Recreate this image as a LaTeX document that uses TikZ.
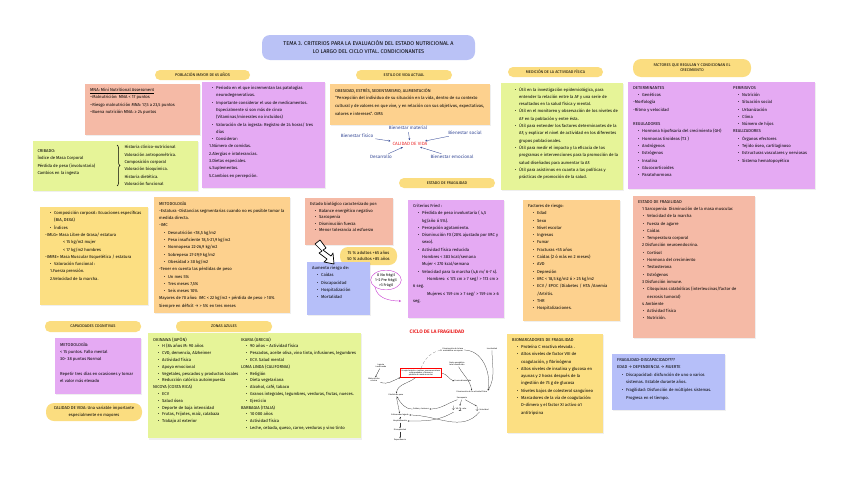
\documentclass[tikz,border=0pt]{standalone}
\usepackage{fontspec}
\setmainfont{Fira Sans}
\usepackage{enumitem}
\usetikzlibrary{positioning,arrows.meta,shapes.geometric,decorations.pathreplacing,shadows}
\setlist[itemize]{label=\textbullet,leftmargin=9pt,labelsep=3pt,itemsep=0pt,parsep=0pt,topsep=0pt,partopsep=0pt}
\definecolor{pillyellow}{RGB}{251,221,128}
\definecolor{notesalmon}{RGB}{245,186,166}
\definecolor{notepurple}{RGB}{229,170,243}
\definecolor{notelime}{RGB}{230,244,152}
\definecolor{noteorange}{RGB}{253,209,142}
\definecolor{noteyellow}{RGB}{252,223,130}
\definecolor{notelav}{RGB}{182,191,249}
\definecolor{titlelav}{RGB}{186,194,246}
\definecolor{qolblue}{RGB}{52,72,150}
\definecolor{qolred}{RGB}{235,40,40}
\definecolor{scoremag}{RGB}{200,60,210}
\newcommand{\notefont}{\fontsize{4.2}{7.3}\selectfont}
\newcommand{\notetext}[3]{\parbox[t][#2][t]{#1}{\raggedright\notefont #3}}
\tikzset{
  note/.style={fill=#1, anchor=north west, inner xsep=5pt, inner ysep=4pt,
    drop shadow={opacity=0.12, shadow xshift=0.6pt, shadow yshift=-1.2pt}},
  pill/.style={fill=pillyellow, rounded corners=5pt, inner sep=1pt, align=center,
    font=\fontsize{3.9}{5.2}\selectfont},
  qol/.style={text=qolblue, font=\fontsize{4.6}{5.5}\selectfont, inner sep=1pt},
  qolarrow/.style={-{Stealth[length=2pt,width=2pt]}, qolblue, line width=0.35pt, shorten <=1pt, shorten >=1pt},
  cyc/.style={font=\fontsize{2}{2.4}\selectfont, align=center, inner sep=0.5pt},
  cycarrow/.style={-{Stealth[length=1.6pt,width=1.4pt]}, line width=0.25pt, black!80},
}
\begin{document}
\begin{tikzpicture}[x=1pt, y=-1pt]
\useasboundingbox (0,0) rectangle (848,477);
\fill[white] (0,0) rectangle (848,477);

% titulo y cabeceras
\node[fill=titlelav, rounded corners=8pt, minimum width=213pt, minimum height=25pt, align=center,
  font=\fontsize{5.5}{8}\selectfont] (title) at (368.5,47.5)
  {TEMA 3. CRITERIOS PARA LA EVALUACIÓN DEL ESTADO NUTRICIONAL A\\LO LARGO DEL CICLO VITAL. CONDICIONANTES};
\node[pill, minimum width=95pt, minimum height=10pt] (hpob) at (202.5,75) {POBLACIÓN MAYOR DE 65 AÑOS};
\node[pill, minimum width=96pt, minimum height=10pt] (hest) at (404,75) {ESTILO DE VIDA ACTUAL};
\node[pill, minimum width=95pt, minimum height=10pt] (hmed) at (555.5,72) {MEDICIÓN DE LA ACTIVIDAD FÍSICA};
\node[pill, minimum width=118pt, minimum height=18pt, rounded corners=8pt] (hfac) at (692,68) {FACTORES QUE REGULAN Y CONDICIONAN EL\\CRECIMIENTO};
\node[pill, minimum width=96pt, minimum height=10pt] (hfrag) at (447,183) {ESTADO DE FRAGILIDAD};
\node[pill, minimum width=96pt, minimum height=11pt] (hcog) at (93,326.5) {CAPACIDADES COGNITIVAS};
\node[pill, minimum width=96pt, minimum height=11pt] (hzon) at (224,326.5) {ZONAS AZULES};
\node[pill, minimum width=96pt, minimum height=18pt, rounded corners=8pt, font=\fontsize{4.2}{6.4}\selectfont] (hcal) at (94,412)
  {CALIDAD DE VIDA: Una variable importante\\especialmente en mayores};
\node[pill, minimum width=57pt, minimum height=18pt, rounded corners=8pt, font=\fontsize{4.2}{6.4}\selectfont] (hpct) at (368.5,256)
  {15 \% adultos +65 años\\50 \% adultos +85 años};

% poblacion mayor de 65
\node[note=notesalmon] (mna) at (85,84) {\notetext{105pt}{43pt}{%
\underline{MNA: Mini Nutritional Assessment}\\
–Malnutrición: MNA < 17 puntos\\
–Riesgo malnutrición MNA: 17,5 a 23,5 puntos\\
–Buena nutrición MNA: ≥ 24 puntos}};
\node[note=notepurple] (pers) at (202,82) {\notetext{113pt}{98pt}{%
\begin{itemize}
\item Periodo en el que incrementan las patologías neurodegenerativas.
\item Importante considerar el uso de medicamentos. Especialmente si son más de cinco (Vitaminas/minerales no incluidos)
\item Valoración de la ingesta: Registro de 24 horas/ tres días
\item Considerar:
\end{itemize}
\hspace*{2pt}1.Número de comidas.\\
\hspace*{2pt}2.Alergias e intolerancias.\\
\hspace*{2pt}3.Dietas especiales.\\
\hspace*{2pt}4.Suplementos.\\
\hspace*{2pt}5.Cambios en percepción.}};
\node[note=notelime, minimum width=165pt, minimum height=50pt] (crib) at (33,141) {};
\node[below right=5pt and 1pt of crib.north west, align=left, font=\notefont] (cribL)
  {CRIBADO:\\Índice de Masa Corporal\\Pérdida de peso (involuntaria)\\Cambios en la ingesta};
\node[below right=1pt and 88pt of crib.north west, align=left, font=\notefont] (cribR)
  {Historia clínico-nutricional\\Valoración antropométrica.\\Composición corporal\\Valoración bioquímica.\\Historia dietética.\\Valoración funcional};
\draw[decorate, decoration={brace, amplitude=3pt}, line width=0.5pt]
  ([xshift=-4pt, yshift=-3pt]cribR.north west) -- ([xshift=-4pt, yshift=3pt]cribR.south west);
\node[note=noteyellow] (comp) at (40,207) {\notetext{98pt}{90pt}{%
\begin{itemize}
\item Composición corporal: Ecuaciones específicas (BIA, DEXA)
\item Índices
\end{itemize}
-IMLG= Masa Libre de Grasa/ estatura\\
\hspace*{18pt}< 15 kg/m2 mujer\\
\hspace*{18pt}< 17 kg/m2 hombres\\
-IMME= Masa Muscular Esquelética / estatura
\begin{itemize}
\item Valoración funcional :
\end{itemize}
\hspace*{5pt}1.Fuerza prensión.\\
\hspace*{5pt}2.Velocidad de la marcha.}};
\node[note=noteorange] (metod) at (154,197) {\notetext{126pt}{108pt}{%
METODOLOGÍA\\
-Estatura -Distancias segmentarias cuando no es posible tomar la medida directa.\\
-IMC
\begin{itemize}
\item Desnutrición <18,5 kg/m2
\item Peso insuficiente 18,5-21,9 kg/m2
\item Normopeso 22-26,9 kg/m2
\item Sobrepeso 27-29,9 kg/m2
\item Obesidad ≥ 30 kg/m2
\end{itemize}
-Tener en cuenta las pérdidas de peso
\begin{itemize}
\item Un mes 5\%
\item Tres meses 7,5\%
\item Seis meses 10\%
\end{itemize}
Mayores de 70 años: IMC < 22 kg/m2 + pérdida de peso > 10\%\\
Siempre en déficit → > 5\% en tres meses}};

% estilo de vida
\node[note=noteorange] (estilo) at (330,84) {\notetext{150pt}{33pt}{\fontsize{4.2}{7.8}\selectfont
OBESIDAD, ESTRÉS, SEDENTARISMO, ALIMENTACIÓN\\
“Percepción del individuo de su situación en la vida, dentro de su contexto cultural y de valores en que vive, y en relación con sus objetivos, expectativas, valores e intereses”. OMS}};
\node[qol] (bmat) at (408,128) {Bienestar material};
\node[qol] (bfis) at (357,136) {Bienestar físico};
\node[qol] (bsoc) at (465,133) {Bienestar social};
\node[qol, text=qolred] (cvida) at (410,144) {CALIDAD DE VIDA};
\node[qol] (desa) at (381,157) {Desarrollo};
\node[qol] (bemo) at (452,157) {Bienestar emocional};
\draw[qolarrow] (bmat) -- (cvida);
\draw[qolarrow] (bfis) -- (cvida);
\draw[qolarrow] (bsoc) -- (cvida);
\draw[qolarrow] (desa) -- (cvida);
\draw[qolarrow] (bemo) -- (cvida);

% actividad fisica
\node[note=notelime] (medic) at (501,83) {\notetext{112pt}{99pt}{%
\begin{itemize}[leftmargin=13pt]
\item Útil en la investigación epidemiológica, para entender la relación entre la AF y una serie de resultados en la salud física y mental.
\item Útil en el monitoreo y observación de los niveles de AF en la población y entre ésta.
\item Útil para entender los factores determinantes de la AF, y explicar el nivel de actividad en los diferentes grupos poblacionales.
\item Útil para medir el impacto y la eficacia de los programas e intervenciones para la promoción de la salud diseñados para aumentar la AF.
\item Útil para asistirnos en cuanto a las políticas y prácticas de promoción de la salud.
\end{itemize}}};

% crecimiento
\node[note=notepurple] (fac) at (628,82) {\notetext{100pt}{99pt}{%
DETERMINANTES
\begin{itemize}
\item Genéticos
\end{itemize}
-Morfología\\
-Ritmo y velocidad\\[7.3pt]
REGULADORES
\begin{itemize}
\item Hormona hipofisaria del crecimiento (GH)
\item Hormonas tiroideas (T3 )
\item Andrógenos
\item Estrógenos
\item Insulina
\item Glucocorticoides
\item Paratohormona
\end{itemize}}\notetext{77pt}{99pt}{%
PERMISIVOS
\begin{itemize}
\item Nutrición
\item Situación social
\item Urbanización
\item Clima
\item Número de hijos
\end{itemize}
REALIZADORES
\begin{itemize}
\item Órganos efectores
\item Tejido óseo, cartilaginoso
\item Estructuras vasculares y nerviosas
\item Sistema hematopoyético
\end{itemize}}};

% fragilidad
\node[note=notesalmon] (bio) at (305,198) {\notetext{78pt}{39pt}{\fontsize{4.2}{6.6}\selectfont
Estado biológico caracterizado por:
\begin{itemize}
\item Balance energético negativo
\item Sarcopenia
\item Disminución fuerza
\item Menor tolerancia al esfuerzo
\end{itemize}}};
\node[note=notelav] (riesgo) at (307,262) {\notetext{53pt}{45pt}{%
Aumento riesgo de:
\begin{itemize}
\item Caídas
\item Discapacidad
\item Hospitalización
\item Mortalidad
\end{itemize}}};
\draw[fill=white, line width=0.7pt, line join=round]
  (315,244) -- (320,240) -- (326,248) -- (323,250) -- (331,256) -- (333,253) -- (334,264)
  -- (324,262) -- (327,259) -- (319,253) -- (322,251) -- cycle;
\node[draw=scoremag, ellipse, line width=0.4pt, inner sep=0pt, align=center,
  font=\fontsize{3.8}{5}\selectfont] (frscore) at (386,280) {0 No frágil\\1--2 Pre frágil\\>3 Frágil};
\coordinate (frtip) at (401,301);
\draw[scoremag, line width=0.4pt, -{Stealth[length=2pt,width=2pt]}] (frscore.south west) to[out=-80, in=180] (frtip);
\node[note=notepurple] (fried) at (408,200) {\notetext{86pt}{110pt}{%
Criterios Fried :
\begin{itemize}
\item Pérdida de peso involuntaria ( 4,5 kg/año ó 5\%).
\item Percepción agotamiento.
\item Disminución FX (20\% ajustado por IMC y sexo).
\item Actividad física reducida\\
Hombres < 383 kcal/semana\\
Mujer < 270 kcal/semana
\item Velocidad para la marcha (4,6 m/ 6-7 s).
\end{itemize}
\hspace*{14pt}Hombres: ≤ 173 cm ≥ 7 seg/ > 173 cm ≥ 6 seg.\\
\hspace*{14pt}Mujeres ≤ 159 cm ≥ 7 seg/ > 159 cm ≥ 6 seg.}};
\node[note=noteorange] (friesgo) at (523,200) {\notetext{87pt}{113pt}{%
Factores de riesgo:
\begin{itemize}
\item Edad
\item Sexo
\item Nivel escolar
\item Ingresos
\item Fumar
\item Fracturas +55 años
\item Caídas (2 ó más en 2 meses)
\item AVD
\item Depresión
\item IMC < 18,5 kg/m2 ó > 25 kg/m2
\item ECV / EPOC /Diabetes / HTA /Anemia /Artritis.
\item THR
\item Hospitalizaciones.
\end{itemize}}};
\node[note=notesalmon] (estfrag) at (633,196) {\notetext{112pt}{134pt}{%
ESTADO DE FRAGILIDAD\\
\hspace*{4pt}1 Sarcopenia: Disminución de la masa muscular.
\begin{itemize}
\item Velocidad de la marcha
\item Fuerza de agarre
\item Caídas
\item Temperatura corporal
\end{itemize}
\hspace*{4pt}2 Disfunción neuroendocrina.
\begin{itemize}
\item Cortisol
\item Hormona del crecimiento
\item Testosterona
\item Estrógenos
\end{itemize}
\hspace*{4pt}3 Disfunción inmune.
\begin{itemize}
\item Citoquinas catabólicas (interleucinas/factor de necrosis tumoral)
\end{itemize}
\hspace*{4pt}4 Ambiente
\begin{itemize}
\item Actividad física
\item Nutrición.
\end{itemize}}};

% capacidades cognitivas y zonas azules
\node[note=notepurple] (cogn) at (55,338) {\notetext{76pt}{48pt}{%
METODOLOGÍA:\\
< 15 puntos. Fallo mental\\
30- 38 puntos Normal\\[7.3pt]
Repetir tres días en ocasiones y tomar el valor más elevado}};
\node[note=notelime] (zonas) at (148,333) {\notetext{88pt}{97pt}{\fontsize{4.2}{6.8}\selectfont
OKINAWA (JAPÓN)
\begin{itemize}
\item H (84 años M: 90 años
\item CVD, demencia, Alzheimer
\item Actividad física
\item Apoyo emocional
\item Vegetales, pescados y productos locales
\item Reducción calórica autoimpuesta
\end{itemize}
NICOYA (COSTA RICA)
\begin{itemize}
\item ECV
\item Salud ósea
\item Deporte de baja intensidad
\item Frutas, Frijoles, maíz, calabaza
\item Trabajo al exterior
\end{itemize}}\notetext{115pt}{97pt}{\fontsize{4.2}{6.8}\selectfont
IKARIA (GRECIA)
\begin{itemize}
\item 90 años – Actividad física
\item Pescados, aceite oliva, vino tinto, infusiones, legumbres
\item ECV. Salud mental
\end{itemize}
LOMA LINDA (CALIFORNIA)
\begin{itemize}
\item Religión
\item Dieta vegetariana
\item Alcohol, café, tabaco
\item Granos integrales, legumbres, verduras, frutas, nueces.
\item Ejercicio
\end{itemize}
BARBAGIA (ITALIA)
\begin{itemize}
\item 10 000 años
\item Actividad física
\item Leche, cebada, queso, carne, verduras y vino tinto
\end{itemize}}};

% ciclo de la fragilidad
\node[text=qolred, font=\bfseries\fontsize{5}{6}\selectfont] (cyctitle) at (437,332) {CICLO DE LA FRAGILIDAD};
\node[cyc] (cytasa) at (453,350) {Disminución de la tasa\\metabólica en reposo};
\node[cyc] (cyinac) at (492,349) {Inactividad};
\node[cyc] (cyinge) at (381,366) {Ingesta\\inadecuada};
\node[cyc] (cymaln) at (374,380) {Malnutrición\\crónica};
\node[cyc, draw=red, line width=0.4pt, inner sep=1pt] (cyenv) at (421,373)
  {Envejecimiento: cambios neuromusculares\\enfermedades y fármacos\\pérdida de masa muscular};
\node[cyc] (cygast) at (457,364) {Gasto energético\\total disminuido};
\node[cyc] (cyfuer) at (463,381) {Fuerza disminuida};
\node[cyc] (cypeso) at (396,395) {Pérdida de peso};
\node[cyc] (cyacti) at (472,392) {Disminución de la actividad física};
\node[cyc] (cysarc) at (462,398) {Sarcopenia};
\node[cyc] (cycaid) at (421,409) {Caídas y lesiones};
\node[cyc] (cyvo) at (459,409) {$\downarrow$ VO$_2$ máx};
\node[cyc] (cyvel) at (482,409) {$\downarrow$ Velocidad};
\node[cyc] (cyagud) at (400,415) {Enfermedad aguda};
\node[cyc] (cyhosp) at (400,421) {Hospitalización};
\node[cyc] (cydisc) at (400,430) {Discapacidad};
\node[cyc] (cydepe) at (400,440) {Dependencia};
\draw[cycarrow] (cyinge) -- (cymaln);
\draw[cycarrow] (cymaln) to[out=-20, in=200] (cyenv.south west);
\draw[cycarrow] (cyenv) to[out=220, in=80] (cypeso);
\draw[cycarrow] (cypeso) -- (cyagud);
\draw[cycarrow] (cyagud) -- (cyhosp);
\draw[cycarrow] (cyhosp) -- (cydisc);
\draw[cycarrow] (cydisc) -- (cydepe);
\draw[cycarrow, densely dashed, gray] (cyenv.north) to[out=70, in=190] (cytasa.west);
\draw[cycarrow] (cytasa.east) to[out=0, in=80] (cyacti.north east);
\draw[cycarrow] (cyinac) to[out=-90, in=60] (cyacti.north east);
\draw[cycarrow] (cygast) to[out=-60, in=100] (cyacti);
\draw[cycarrow] (cyenv.east) to[out=-10, in=160] (cyfuer.west);
\draw[cycarrow] (cysarc) -- (cyvo);
\draw[cycarrow] (cysarc) -- (cyvel);
\draw[cycarrow] (cysarc) to[out=200, in=0] (cycaid);
\draw[cycarrow] (cycaid) to[out=180, in=-60] (cypeso);
\draw[cycarrow] (cyvo) to[out=210, in=0] (cyhosp);
\draw[cycarrow] (cyvel) to[out=230, in=0] (cyagud);

% biomarcadores y discapacidad
\node[note=noteyellow] (biom) at (507,334) {\notetext{86pt}{91pt}{%
BIOMARCADORES DE FRAGILIDAD
\begin{itemize}
\item Proteína C reactiva elevada .
\item Altos niveles de factor VIII de coagulación, y fibrinógeno
\item Altos niveles de insulina y glucosa en ayunas y 2 horas después de la ingestión de 75 g de glucosa
\item Niveles bajos de colesterol sanguíneo
\item Marcadores de la vía de coagulación: D-dímero y el factor XI activo α1 antitripsina
\end{itemize}}};
\node[note=notelav] (frdis) at (612,354) {\notetext{103pt}{48pt}{\fontsize{4.2}{7.6}\selectfont
FRAGILIDAD-DISCAPACIDAD????\\
EDAD → DEPENDENCIA → MUERTE
\begin{itemize}
\item Discapacidad: disfunción de uno o varios sistemas. Estable durante años.
\item Fragilidad: Disfunción de múltiples sistemas. Progresa en el tiempo.
\end{itemize}}};
\end{tikzpicture}
\end{document}
